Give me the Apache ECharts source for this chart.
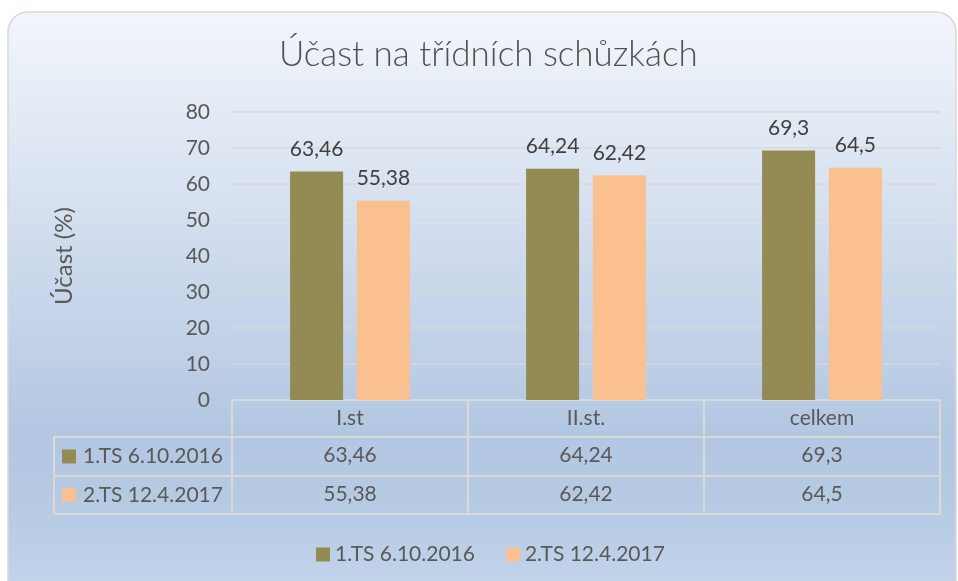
<!DOCTYPE html>
<html style="height: 100%">

<head>
    <meta charset="utf-8">
    <title>Účast na třídních schůzkách</title>
</head>

<body style="height: 100%; margin: 0; background: #ffffff;">
    <div id="container" style="width: 958px; height: 581px;"></div>
    <script src="https://cdn.jsdelivr.net/npm/echarts@6/dist/echarts.min.js"></script>
    <script type="text/javascript">
        // data
        var categories = ['I.st', 'II.st.', 'celkem'];
        var seriesNames = ['1.TS 6.10.2016', '2.TS 12.4.2017'];
        var ts1 = [63.46, 64.24, 69.3];
        var ts2 = [55.38, 62.42, 64.5];
        var yTicks = [0, 10, 20, 30, 40, 50, 60, 70, 80];

        var colors = ['#938A54', '#FAC090'];
        var font = 'Lato';
        var textGrey = '#595959';
        var lineGrey = '#d9d9d9';

        // layout
        var gridLeft = 232, gridRight = 18, gridTop = 112, gridBottom = 181;
        var rowH = [37, 39, 38];
        var tableLeft = 54;

        function fmt(v) {
            return String(v).replace('.', ',');
        }

        var dom = document.getElementById("container");
        var myChart = echarts.init(dom);

        var axisY = 581 - gridBottom;
        var row1 = axisY + rowH[0];
        var row2 = row1 + rowH[1];
        var row3 = row2 + rowH[2];

        var tableAxis = function (data, offset, showLabel) {
            return {
                type: 'category',
                position: 'bottom',
                offset: offset,
                data: data,
                axisLine: { show: true, lineStyle: { color: lineGrey, width: 2 } },
                axisTick: { show: false },
                axisLabel: {
                    show: showLabel, margin: 8, fontSize: 21, color: textGrey, fontFamily: font
                },
                splitLine: { show: false }
            };
        };

        var graphics = [{
            type: 'rect',
            z: -10,
            silent: true,
            shape: { x: 8, y: 12, width: 948, height: 600, r: 20 },
            style: {
                fill: new echarts.graphic.LinearGradient(0, 0, 0, 1, [
                    { offset: 0, color: '#f3f6fb' },
                    { offset: 0.7, color: '#b3c7e2' },
                    { offset: 0.82, color: '#b6cae4' },
                    { offset: 1, color: '#c6d7ec' }
                ]),
                stroke: lineGrey,
                lineWidth: 1.5
            }
        }];
        [row1, row2, row3].forEach(function (y) {
            graphics.push({
                type: 'line', silent: true,
                shape: { x1: tableLeft, y1: y, x2: gridLeft, y2: y },
                style: { stroke: lineGrey, lineWidth: 2 }
            });
        });
        graphics.push({
            type: 'line', silent: true,
            shape: { x1: tableLeft, y1: row1, x2: tableLeft, y2: row3 },
            style: { stroke: lineGrey, lineWidth: 2 }
        });
        seriesNames.forEach(function (name, i) {
            var cy = (i === 0 ? (row1 + row2) / 2 : (row2 + row3) / 2);
            graphics.push({
                type: 'rect', silent: true,
                shape: { x: tableLeft + 8, y: cy - 7, width: 14, height: 14 },
                style: { fill: colors[i] }
            });
            graphics.push({
                type: 'text', silent: true,
                style: {
                    x: tableLeft + 29, y: cy, text: name, fill: textGrey,
                    font: '21px ' + font, verticalAlign: 'middle', align: 'left'
                }
            });
        });

        var option = {
            animation: false,
            title: {
                text: 'Účast na třídních schůzkách',
                left: 274,
                top: 32,
                textStyle: { fontSize: 35, fontWeight: 300, color: '#505050', fontFamily: font }
            },
            legend: {
                data: seriesNames,
                left: 311,
                top: 539,
                icon: 'rect',
                itemWidth: 14,
                itemHeight: 14,
                itemGap: 31,
                textStyle: { fontSize: 21, color: textGrey, fontFamily: font }
            },
            grid: { left: gridLeft, right: gridRight, top: gridTop, bottom: gridBottom },
            xAxis: [{
                type: 'category',
                position: 'bottom',
                data: categories,
                axisLine: { show: true, lineStyle: { color: lineGrey, width: 2 } },
                axisTick: { show: true, length: row3 - axisY, lineStyle: { color: lineGrey, width: 2 } },
                axisLabel: { margin: 8, fontSize: 21, color: textGrey, fontFamily: font }
            },
            tableAxis(ts1.map(fmt), rowH[0], true),
            tableAxis(ts2.map(fmt), rowH[0] + rowH[1], true),
            tableAxis(categories, rowH[0] + rowH[1] + rowH[2], false)
            ],
            yAxis: {
                type: 'value',
                min: yTicks[0],
                max: yTicks[yTicks.length - 1],
                interval: yTicks[1] - yTicks[0],
                name: 'Účast (%)',
                nameLocation: 'middle',
                nameRotate: 90,
                nameGap: 156,
                nameTextStyle: { fontSize: 24, color: textGrey, fontFamily: font },
                axisLine: { show: false },
                axisTick: { show: false },
                axisLabel: { margin: 22, fontSize: 21, color: textGrey, fontFamily: font },
                splitLine: { lineStyle: { color: lineGrey, width: 1.5 } }
            },
            series: [{
                name: seriesNames[0],
                type: 'bar',
                data: ts1,
                barWidth: 53,
                barGap: '26%',
                itemStyle: { color: colors[0] },
                label: {
                    show: true, position: 'top', distance: 12, formatter: function (p) { return fmt(p.value); },
                    fontSize: 21, color: '#404040', fontFamily: font
                }
            }, {
                name: seriesNames[1],
                type: 'bar',
                data: ts2,
                barWidth: 53,
                barGap: '26%',
                itemStyle: { color: colors[1] },
                label: {
                    show: true, position: 'top', distance: 12, formatter: function (p) { return fmt(p.value); },
                    fontSize: 21, color: '#404040', fontFamily: font
                }
            }],
            graphic: graphics
        };

        myChart.setOption(option, true);
    </script>
</body>

</html>
